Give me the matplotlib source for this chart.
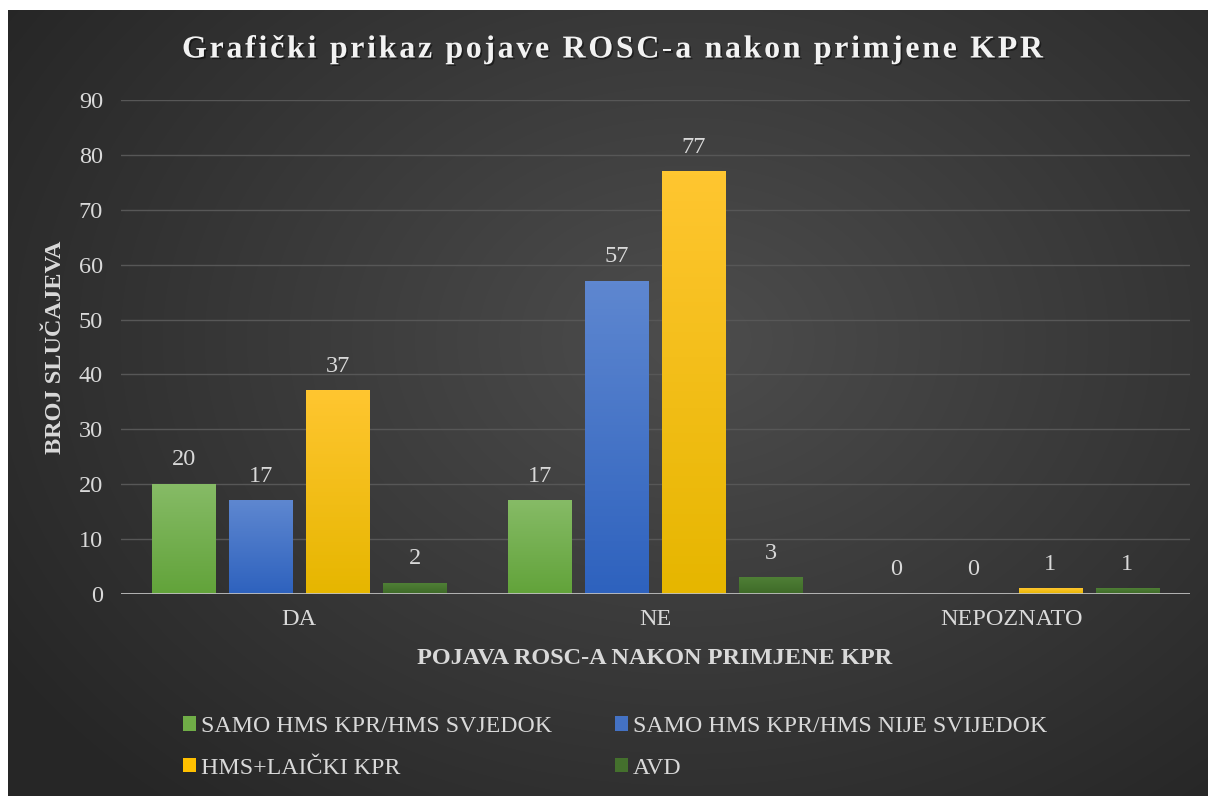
import numpy as np
import matplotlib
matplotlib.use("Agg")
import matplotlib.pyplot as plt
import matplotlib.patheffects as pe
from matplotlib.patches import Patch
from matplotlib.colors import LinearSegmentedColormap, to_rgb

# ───────────────────────── podaci ─────────────────────────
kategorije = ["DA", "NE", "NEPOZNATO"]
serije = ["SAMO HMS KPR/HMS SVJEDOK", "SAMO HMS KPR/HMS NIJE SVIJEDOK",
          "HMS+LAIČKI KPR", "AVD"]
samo_svjedok = [20, 17, 0]
samo_nije_svjedok = [17, 57, 0]
hms_laicki = [37, 77, 1]
avd = [2, 3, 1]
y_ticks = [0, 10, 20, 30, 40, 50, 60, 70, 80, 90]

# ───────────────────────── stil ─────────────────────────
W, H = 1208, 796
FONT = "Liberation Serif"
TXT = "#d9d9d9"
GRID_C = "#575757"
AXIS_C = "#bfbfbf"
# (dno, vrh) gradijent za svaki niz
BOJE = [("#62a33a", "#86bb66"),
        ("#2e62be", "#5e87d0"),
        ("#e6b600", "#ffc630"),
        ("#3e6a28", "#4f7f36")]
LEG_BOJE = ["#70ad47", "#4472c4", "#ffc000", "#44702d"]

plt.rcParams["font.family"] = [FONT, "DejaVu Serif"]

fig = plt.figure(figsize=(W / 100, H / 100), dpi=100)
fig.patch.set_facecolor("white")

# pozadina s radijalnim gradijentom
bg = fig.add_axes([8 / W, 0, 1 - 8 / W, 1 - 10 / H], zorder=-10)
yy, xx = np.mgrid[0:786, 0:1200]
r = np.sqrt(((xx - 680) / 820.0) ** 2 + ((yy - 330) / 620.0) ** 2)
t = np.clip(r / 1.0, 0, 1)
c_in, c_out = np.array(to_rgb("#4d4d4d")), np.array(to_rgb("#262626"))
img = c_in[None, None, :] * (1 - t[..., None]) + c_out[None, None, :] * t[..., None]
bg.imshow(img, extent=[0, 1, 0, 1], aspect="auto", origin="upper")
bg.axis("off")

# glavni graf
ax = fig.add_axes([121 / W, (H - 594) / H, (1190 - 121) / W, (594 - 100) / H])
ax.set_facecolor("none")

vrijednosti = [samo_svjedok, samo_nije_svjedok, hms_laicki, avd]
x = np.arange(len(kategorije))
sirina = 0.178
korak = 0.216
grad = np.linspace(1, 0, 100).reshape(-1, 1)

for j, vals in enumerate(vrijednosti):
    cmap = LinearSegmentedColormap.from_list(f"c{j}", list(BOJE[j]))
    off = (j - 1.5) * korak
    for i, v in enumerate(vals):
        xc = x[i] + off
        if v > 0:
            ax.imshow(grad, extent=[xc - sirina / 2, xc + sirina / 2, 0, v],
                      aspect="auto", cmap=cmap, vmin=0, vmax=1, zorder=3,
                      origin="upper")
        ax.annotate(str(v), (xc, v), xytext=(0, 17.5), textcoords="offset points",
                    ha="center", va="center", color=TXT, fontsize=17.5, zorder=6)

ax.set_xlim(-0.5, len(kategorije) - 0.5)
ax.set_ylim(0, 90)
ax.set_aspect("auto")
ax.set_yticks(y_ticks)
ax.set_xticks(x)
ax.set_xticklabels(kategorije)
ax.tick_params(axis="both", length=0, labelcolor=TXT, labelsize=17.5)
ax.tick_params(axis="y", pad=13)
ax.tick_params(axis="x", pad=11)
ax.yaxis.grid(True, color=GRID_C, lw=1.0)
ax.set_axisbelow(True)
for s in ax.spines.values():
    s.set_visible(False)
ax.axhline(0, color=AXIS_C, lw=2.0, zorder=5)

# nazivi osi
fig.text(655 / W, 1 - 658 / H, "POJAVA ROSC-A NAKON PRIMJENE KPR", ha="center",
         va="center", color=TXT, fontsize=17.5, fontweight="bold")
fig.text(56 / W, 1 - 347 / H, "BROJ SLUČAJEVA", ha="center", va="center",
         rotation=90, color=TXT, fontsize=17.5, fontweight="bold")


# naslov s razmakom između slova
def naslov_razmaknut(s, x_lijevo, x_desno, y, **kw):
    rend = fig.canvas.get_renderer()

    def w_px(tekst):
        tt = fig.text(0, 0, tekst, **kw)
        w = tt.get_window_extent(rend).width
        tt.remove()
        return w

    ref = w_px("x")
    poz = [w_px(s[:i] + "x") - ref for i in range(len(s))]
    razmak = ((x_desno - x_lijevo) - w_px(s)) / (len(s) - 1)
    for i, ch in enumerate(s):
        if ch == " ":
            continue
        fig.text((x_lijevo + poz[i] + razmak * i) / W, y, ch, ha="left",
                 va="center", **kw)


naslov_razmaknut("Grafički prikaz pojave ROSC-a nakon primjene KPR", 182, 1043,
                 1 - 50 / H, color="#f2f2f2", fontsize=23, fontweight="bold",
                 path_effects=[pe.withSimplePatchShadow(offset=(1.2, -1.2),
                                                        shadow_rgbFace="black",
                                                        alpha=0.45)])

# legenda (redoslijed po redovima)
ruke = [Patch(facecolor=c, edgecolor="none", label=l) for c, l in zip(LEG_BOJE, serije)]
ruke = [ruke[0], ruke[2], ruke[1], ruke[3]]
leg = fig.legend(handles=ruke, ncol=2, loc="upper left",
                 bbox_to_anchor=(183 / W, 1 - 716 / H), frameon=False, borderpad=0,
                 borderaxespad=0, prop={"family": FONT, "size": 17.2},
                 labelcolor=TXT, handlelength=0.54, handleheight=0.54,
                 handletextpad=0.2, columnspacing=2.65, labelspacing=0.86)
for tx in leg.get_texts():
    tx.set_fontfamily(FONT)

fig.savefig("out.png", dpi=100)
